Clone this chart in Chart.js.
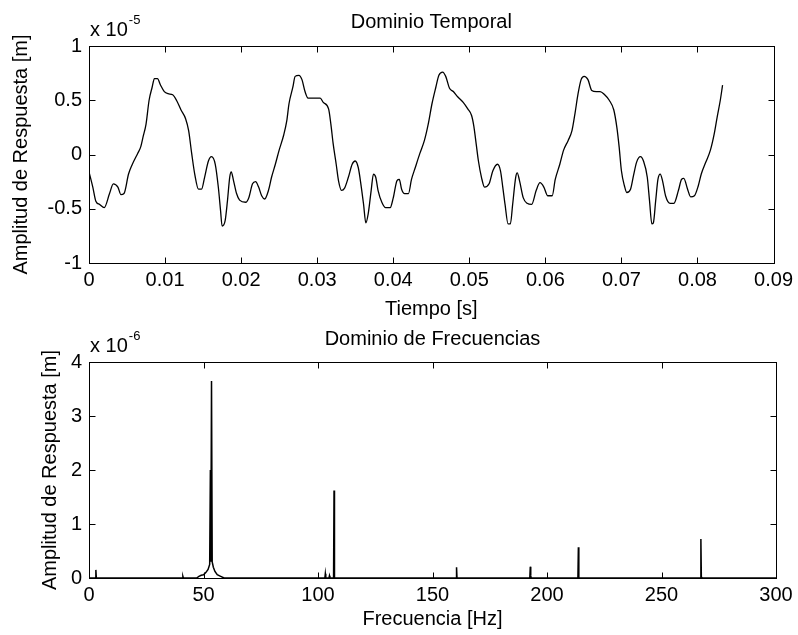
<!DOCTYPE html>
<html>
<head>
<meta charset="utf-8">
<script src="https://cdn.jsdelivr.net/npm/chart.js@4.4.1/dist/chart.umd.min.js"></script>
<style>
  body { margin: 0; background: #fff; }
  canvas { position: absolute; left: 0; }
  #temporal { top: 0; }
  #frecuencias { top: 325px; }
</style>
</head>
<body>
<canvas id="temporal" width="798" height="325"></canvas>
<canvas id="frecuencias" width="798" height="310"></canvas>
<script>
// respuesta en el tiempo, amplitud en unidades de 1e-5 m
var tiempo = [0.0000,0.0005,0.0009,0.0014,0.0020,0.0027,0.0032,0.0038,0.0042,0.0046,
  0.0052,0.0057,0.0064,0.0068,0.0071,0.0075,0.0079,0.0083,0.0086,0.0090,
  0.0094,0.0099,0.0104,0.0110,0.0115,0.0121,0.0127,0.0131,0.0135,0.0139,
  0.0144,0.0148,0.0152,0.0157,0.0161,0.0166,0.0170,0.0173,0.0175,0.0179,
  0.0182,0.0185,0.0187,0.0190,0.0194,0.0198,0.0206,0.0210,0.0215,0.0219,
  0.0223,0.0227,0.0231,0.0236,0.0240,0.0245,0.0250,0.0256,0.0260,0.0263,
  0.0268,0.0271,0.0276,0.0280,0.0284,0.0288,0.0298,0.0304,0.0308,0.0315,
  0.0318,0.0321,0.0325,0.0328,0.0332,0.0336,0.0341,0.0346,0.0350,0.0354,
  0.0358,0.0361,0.0364,0.0367,0.0371,0.0374,0.0377,0.0380,0.0385,0.0390,
  0.0396,0.0400,0.0405,0.0408,0.0411,0.0415,0.0420,0.0424,0.0429,0.0435,
  0.0441,0.0446,0.0451,0.0456,0.0460,0.0465,0.0469,0.0474,0.0479,0.0485,
  0.0492,0.0498,0.0503,0.0506,0.0509,0.0512,0.0516,0.0520,0.0526,0.0531,
  0.0537,0.0541,0.0544,0.0547,0.0551,0.0554,0.0557,0.0561,0.0563,0.0566,
  0.0571,0.0576,0.0582,0.0588,0.0593,0.0598,0.0603,0.0609,0.0613,0.0619,
  0.0624,0.0630,0.0635,0.0639,0.0643,0.0647,0.0651,0.0656,0.0661,0.0667,
  0.0672,0.0678,0.0684,0.0690,0.0694,0.0697,0.0700,0.0704,0.0707,0.0712,
  0.0716,0.0720,0.0725,0.0729,0.0734,0.0737,0.0740,0.0742,0.0745,0.0748,
  0.0751,0.0754,0.0758,0.0764,0.0769,0.0775,0.0779,0.0782,0.0787,0.0791,
  0.0796,0.0801,0.0805,0.0811,0.0817,0.0822,0.0826,0.0830,0.0833];
var amplitudTiempo = [-0.16,-0.30,-0.43,-0.46,-0.49,-0.36,-0.27,-0.30,-0.37,-0.36,
  -0.18,-0.09,0.01,0.07,0.16,0.28,0.50,0.62,0.70,0.70,
  0.64,0.58,0.56,0.55,0.50,0.41,0.33,0.22,0.01,-0.18,
  -0.32,-0.32,-0.21,-0.06,-0.02,-0.09,-0.30,-0.52,-0.66,-0.61,
  -0.43,-0.21,-0.16,-0.24,-0.36,-0.42,-0.44,-0.40,-0.27,-0.25,
  -0.30,-0.38,-0.41,-0.33,-0.21,-0.09,0.04,0.18,0.31,0.47,
  0.62,0.72,0.73,0.69,0.58,0.52,0.52,0.52,0.48,0.42,
  0.28,0.10,-0.09,-0.24,-0.33,-0.31,-0.21,-0.09,-0.06,-0.12,
  -0.30,-0.46,-0.63,-0.55,-0.33,-0.18,-0.21,-0.33,-0.44,-0.49,
  -0.49,-0.40,-0.24,-0.23,-0.32,-0.36,-0.36,-0.23,-0.12,0.01,
  0.13,0.28,0.47,0.62,0.73,0.76,0.72,0.61,0.58,0.53,
  0.48,0.42,0.36,0.26,0.10,-0.06,-0.21,-0.30,-0.27,-0.15,
  -0.09,-0.15,-0.30,-0.46,-0.64,-0.64,-0.46,-0.21,-0.17,-0.24,
  -0.40,-0.45,-0.46,-0.33,-0.26,-0.30,-0.38,-0.38,-0.23,-0.09,
  0.04,0.13,0.22,0.38,0.56,0.69,0.72,0.69,0.59,0.58,
  0.58,0.55,0.50,0.41,0.25,0.07,-0.15,-0.29,-0.35,-0.32,
  -0.19,-0.07,-0.02,-0.06,-0.21,-0.43,-0.64,-0.63,-0.43,-0.23,
  -0.18,-0.24,-0.38,-0.45,-0.45,-0.33,-0.23,-0.22,-0.32,-0.39,
  -0.38,-0.29,-0.18,-0.07,0.04,0.19,0.35,0.50,0.64];

// espectro, amplitud en unidades de 1e-6 m
var frecuencia = [0,2.8,3.0,3.2,40.8,41.0,41.2,47,48,49,50,51,52,52.7,53.0,53.2,53.5,53.8,54.3,55,56,57.5,59,
  103.0,103.2,103.4,104.8,105.0,105.2,106.8,107.0,107.2,160.3,160.5,160.7,192.5,192.7,192.9,193.1,
  213.5,213.7,213.9,267.0,267.2,267.4,267.8,300];
var amplitudFrec = [0,0,0.15,0,0,0.03,0,0,0.03,0.05,0.06,0.10,0.16,0.25,2.0,0.30,3.65,0.30,0.20,0.12,0.06,0.03,0,
  0,0.08,0,0,0.04,0,0,1.62,0,0,0.20,0,0,0.21,0.04,0,
  0,0.57,0,0,0.72,0.02,0,0];

var tiempoTicks = [0,0.09,0.01];
var ampTiempoTicks = [-1,1,0.5];
var frecTicks = [0,300,50];
var ampFrecTicks = [0,4,1];

var fuente = '"Liberation Sans", Arial, sans-serif';
Chart.defaults.font.family = fuente;
Chart.defaults.font.size = 20;
Chart.defaults.color = '#000';

function etiqueta(v) { return String(Number(v.toFixed(3))); }

// caja cerrada con marcas hacia dentro y el factor x 10^n
var marco = {
  id: 'marco',
  afterDraw: function (chart, args, opts) {
    var ctx = chart.ctx, a = chart.chartArea, sx = chart.scales.x, sy = chart.scales.y;
    var L = Math.round(a.left) + 0.5, R = Math.round(a.right) + 0.5;
    var T = Math.round(a.top) + 0.5, B = Math.round(a.bottom) + 0.5;
    ctx.save();
    ctx.strokeStyle = '#000';
    ctx.lineWidth = 1;
    ctx.beginPath();
    sx.ticks.forEach(function (t) {
      var p = Math.round(sx.getPixelForValue(t.value)) + 0.5;
      ctx.moveTo(p, B); ctx.lineTo(p, B - 6);
      ctx.moveTo(p, T); ctx.lineTo(p, T + 6);
    });
    sy.ticks.forEach(function (t) {
      var p = Math.round(sy.getPixelForValue(t.value)) + 0.5;
      ctx.moveTo(L, p); ctx.lineTo(L + 6, p);
      ctx.moveTo(R, p); ctx.lineTo(R - 6, p);
    });
    ctx.stroke();
    ctx.strokeRect(L, T, R - L, B - T);
    ctx.fillStyle = '#000';
    ctx.textAlign = 'left';
    ctx.textBaseline = 'alphabetic';
    ctx.font = '20px ' + fuente;
    ctx.fillText('x 10', a.left + 1, a.top - 10);
    var w = ctx.measureText('x 10').width;
    ctx.font = '13px ' + fuente;
    ctx.fillText(opts.exponente, a.left + 2 + w, a.top - 22);
    ctx.restore();
  }
};

function crearGrafica(id, xs, ys, xt, yt, cfg) {
  var puntos = xs.map(function (v, i) { return {x: v, y: ys[i]}; });
  return new Chart(id, {
    type: 'line',
    data: {
      datasets: [{
        data: puntos,
        borderColor: '#000',
        borderWidth: cfg.grosor,
        pointRadius: 0,
        cubicInterpolationMode: cfg.suave ? 'monotone' : 'default',
        fill: false
      }]
    },
    plugins: [marco],
    options: {
      responsive: false,
      animation: false,
      layout: {padding: {left: 0, right: 22, top: 0, bottom: 0}},
      plugins: {
        legend: {display: false},
        tooltip: {enabled: false},
        title: {
          display: true,
          text: cfg.titulo,
          fullSize: false,
          font: {size: 20, weight: 'normal'},
          padding: {top: cfg.tituloArriba, bottom: cfg.tituloAbajo}
        },
        marco: {exponente: cfg.exponente}
      },
      scales: {
        x: {
          type: 'linear',
          min: xt[0], max: xt[1],
          grid: {display: false, drawTicks: false},
          border: {display: false},
          ticks: {stepSize: xt[2], padding: 5, maxRotation: 0, callback: etiqueta},
          title: {display: true, text: cfg.tituloX, padding: {top: 0, bottom: 4}},
          afterFit: function (s) { s.height = cfg.altoX; }
        },
        y: {
          min: yt[0], max: yt[1],
          grid: {display: false, drawTicks: false},
          border: {display: false},
          ticks: {stepSize: yt[2], padding: 7, callback: etiqueta},
          title: {display: true, text: 'Amplitud de Respuesta [m]', padding: {top: cfg.margenY, bottom: 0}},
          afterFit: function (s) { s.width = 89; }
        }
      }
    }
  });
}

crearGrafica('temporal', tiempo, amplitudTiempo, tiempoTicks, ampTiempoTicks, {
  titulo: 'Dominio Temporal', tituloX: 'Tiempo [s]', exponente: '-5',
  tituloArriba: 10, tituloAbajo: 12, altoX: 62, margenY: 9, grosor: 1.3, suave: true
});
crearGrafica('frecuencias', frecuencia, amplitudFrec, frecTicks, ampFrecTicks, {
  titulo: 'Dominio de Frecuencias', tituloX: 'Frecuencia [Hz]', exponente: '-6',
  tituloArriba: 2, tituloAbajo: 11, altoX: 57, margenY: 38, grosor: 1.5, suave: false
});
</script>
</body>
</html>
